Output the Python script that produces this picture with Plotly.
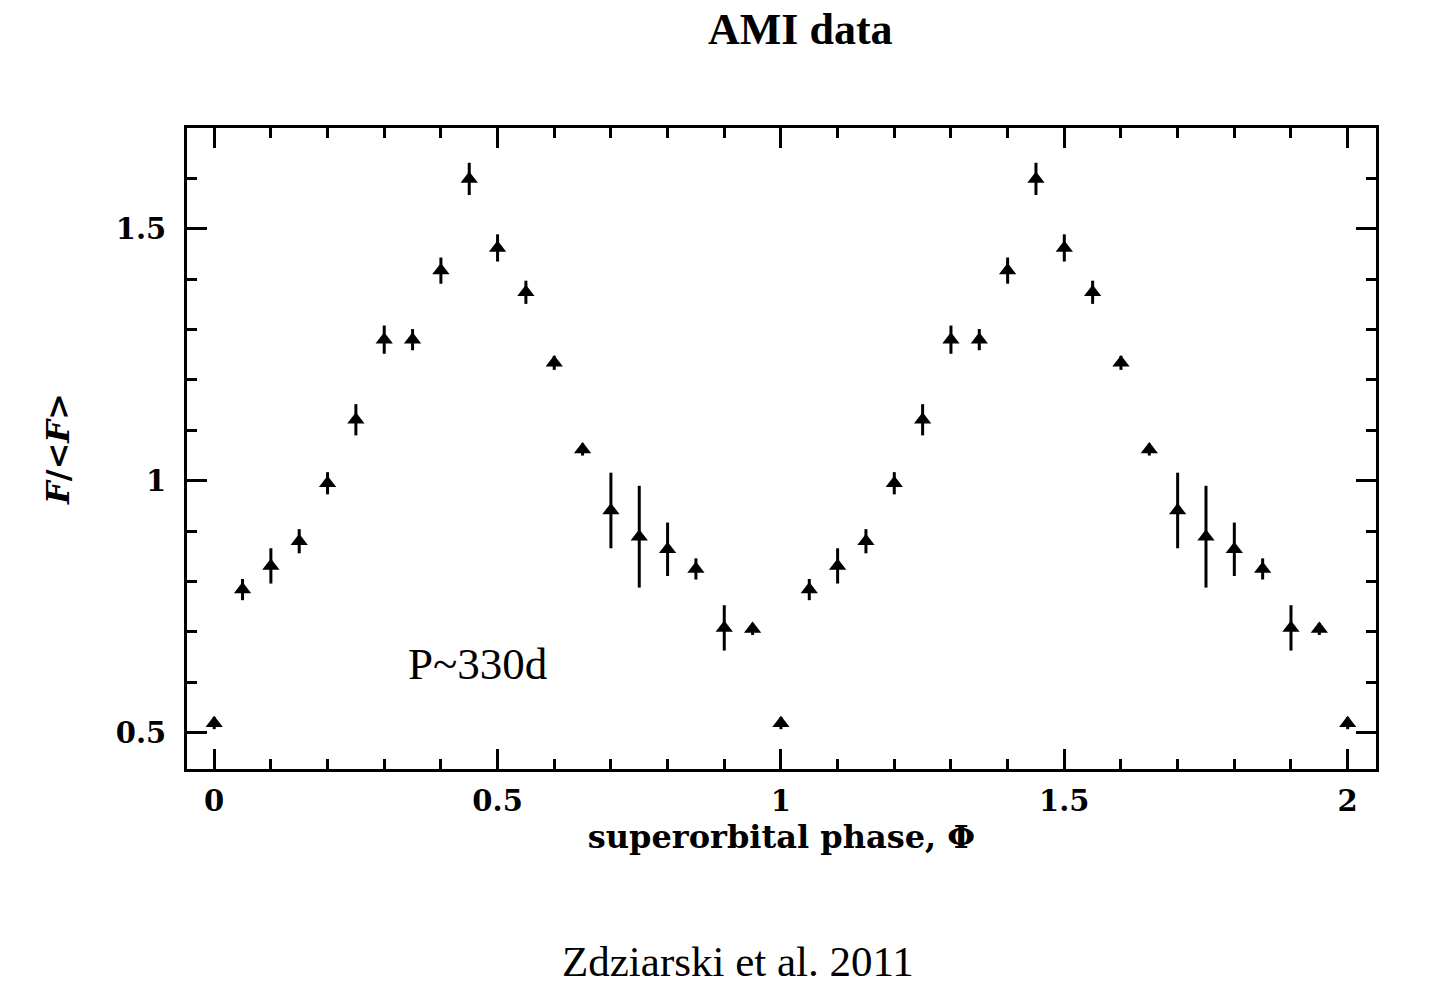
import plotly.graph_objects as go

# Superorbital phase bins (one cycle), normalised flux and 1-sigma errors
phase = [0.00, 0.05, 0.10, 0.15, 0.20, 0.25, 0.30, 0.35, 0.40, 0.45,
         0.50, 0.55, 0.60, 0.65, 0.70, 0.75, 0.80, 0.85, 0.90, 0.95]
flux = [0.519, 0.784, 0.831, 0.880, 0.995, 1.121, 1.280, 1.280, 1.417, 1.599,
        1.462, 1.374, 1.234, 1.062, 0.941, 0.889, 0.864, 0.825, 0.708, 0.706]
err = [0.012, 0.021, 0.035, 0.024, 0.022, 0.031, 0.028, 0.021, 0.026, 0.032,
       0.027, 0.023, 0.014, 0.012, 0.075, 0.101, 0.053, 0.021, 0.045, 0.012]

x_tickvals = [0, 0.5, 1, 1.5, 2]
x_ticktext = ["0", "0.5", "1", "1.5", "2"]
y_tickvals = [0.5, 1, 1.5]
y_ticktext = ["0.5", "1", "1.5"]

# Data are shown over two cycles (phase folded and repeated), plus the point at phase 2
x_all = phase + [p + 1 for p in phase] + [phase[0] + 2]
y_all = flux + flux + [flux[0]]
e_all = err + err + [err[0]]

tick_font = dict(family="DejaVu Serif", size=29, color="black", weight="bold")
title_font = dict(family="DejaVu Serif", size=32, color="black", weight="bold")

fig = go.Figure()
fig.add_trace(go.Scatter(
    x=x_all, y=y_all, mode="markers",
    marker=dict(symbol="triangle-up", size=15, color="black"),
    error_y=dict(type="data", array=e_all, visible=True, color="black",
                 thickness=3, width=0),
    showlegend=False,
))

axis_common = dict(
    showline=True, linecolor="black", linewidth=3, mirror="ticks",
    ticks="inside", ticklen=20, tickwidth=2.5, tickcolor="black",
    showgrid=False, zeroline=False, tickfont=tick_font,
)

fig.update_xaxes(
    range=[-0.048, 2.05], tickvals=x_tickvals, ticktext=x_ticktext,
    minor=dict(dtick=0.1, tick0=0, ticks="inside", ticklen=10, tickwidth=2.5,
               tickcolor="black", showgrid=False),
    ticklabelstandoff=4,
    title=dict(text="superorbital phase, Φ", standoff=0, font=title_font),
    **axis_common,
)
fig.update_yaxes(
    range=[0.428, 1.70], tickvals=y_tickvals, ticktext=y_ticktext,
    minor=dict(dtick=0.1, tick0=0, ticks="inside", ticklen=10, tickwidth=2.5,
               tickcolor="black", showgrid=False),
    ticklabelstandoff=12,
    title=dict(text="<i>F</i>/<<i>F</i>>", standoff=37,
               font=dict(family="DejaVu Serif", size=32, color="black", weight="bold")),
    **axis_common,
)

fig.add_annotation(x=0.465, y=0.637, xref="x", yref="y", text="P~330d",
                   showarrow=False, xanchor="center", yanchor="middle",
                   font=dict(family="Liberation Serif", size=45, color="black"))
fig.add_annotation(x=0.516, y=1.153, xref="paper", yref="paper", text="<b>AMI data</b>",
                   showarrow=False, xanchor="center", yanchor="middle",
                   font=dict(family="Liberation Serif", size=44, color="black"))
fig.add_annotation(x=0.463, y=-0.300, xref="paper", yref="paper", text="Zdziarski et al. 2011",
                   showarrow=False, xanchor="center", yanchor="middle",
                   font=dict(family="Liberation Serif", size=43, color="black"))

fig.update_layout(
    width=1444, height=987,
    margin=dict(l=187, r=68, t=128, b=218, autoexpand=False),
    paper_bgcolor="white", plot_bgcolor="white",
)

fig.write_html("out.html")
